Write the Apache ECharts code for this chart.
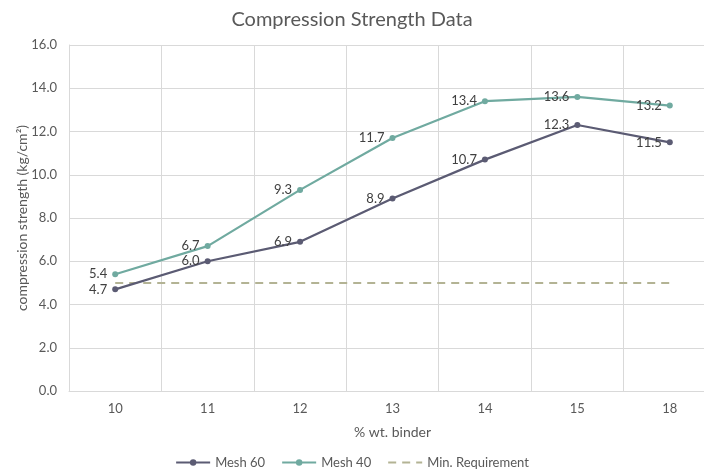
<!DOCTYPE html>
<html><head><meta charset="utf-8">
<script src="https://cdn.jsdelivr.net/npm/echarts@6/dist/echarts.min.js"></script>
<style>html,body{margin:0;padding:0;background:#fff}#c{width:704px;height:472px}</style>
</head><body><div id="c"></div>
<script>
const categories = ['10','11','12','13','14','15','18'];
const mesh60 = [4.7, 6.0, 6.9, 8.9, 10.7, 12.3, 11.5];
const mesh40 = [5.4, 6.7, 9.3, 11.7, 13.4, 13.6, 13.2];
const minReq = [5, 5, 5, 5, 5, 5, 5];
const yTicks = {min: 0, max: 16, interval: 2};

const FONT = 'Lato';
const chart = echarts.init(document.getElementById('c'));
const lbl = {show: true, position: 'left', distance: 5, color: '#404040', fontSize: 13, fontFamily: FONT, formatter: p => p.value.toFixed(1)};
chart.setOption({
  animation: false,
  title: {text: 'Compression Strength Data', left: 'center', top: 5,
    textStyle: {fontFamily: FONT, fontSize: 20, fontWeight: 'normal', color: '#595959'}},
  grid: {left: 69, width: 647, top: 45, bottom: 81, outerBoundsMode: 'none', containLabel: false},
  legend: {top: 451, left: 'center', itemWidth: 34, itemHeight: 8, itemGap: 16,
    data: [{name: 'Mesh 60'}, {name: 'Mesh 40'}, {name: 'Min. Requirement', itemStyle: {opacity: 0}}],
    textStyle: {fontFamily: FONT, fontSize: 13, color: '#595959'}},
  xAxis: {type: 'category', data: categories, boundaryGap: true,
    name: '% wt. binder', nameLocation: 'middle', nameGap: 34,
    nameTextStyle: {fontFamily: FONT, fontSize: 14, color: '#595959'},
    axisLine: {lineStyle: {color: '#d9d9d9'}}, axisTick: {show: false},
    axisLabel: {fontFamily: FONT, fontSize: 13, color: '#595959', margin: 11},
    splitLine: {show: true, lineStyle: {color: '#d9d9d9'}}},
  yAxis: {type: 'value', min: yTicks.min, max: yTicks.max, interval: yTicks.interval,
    name: 'compression strength (kg/cm²)', nameLocation: 'middle', nameGap: 40, nameRotate: 90,
    nameMoveOverlap: false,
    nameTextStyle: {fontFamily: FONT, fontSize: 14, color: '#595959'},
    axisLine: {show: true, lineStyle: {color: '#d9d9d9'}}, axisTick: {show: false},
    axisLabel: {fontFamily: FONT, fontSize: 13, color: '#595959', margin: 12, formatter: v => v.toFixed(1)},
    splitLine: {lineStyle: {color: '#d9d9d9'}}},
  series: [
    {name: 'Mesh 60', type: 'line', data: mesh60, symbol: 'circle', symbolSize: 6,
      itemStyle: {color: '#5b5b73'}, lineStyle: {width: 2.25, color: '#5b5b73'}, label: lbl, z: 3},
    {name: 'Mesh 40', type: 'line', data: mesh40, symbol: 'circle', symbolSize: 6,
      itemStyle: {color: '#70aaa0'}, lineStyle: {width: 2.25, color: '#70aaa0'}, label: lbl, z: 3},
    {name: 'Min. Requirement', type: 'line', data: minReq, symbol: 'none',
      itemStyle: {color: '#b3b394'}, lineStyle: {width: 2, type: [8, 6], color: '#b3b394'}, z: 2}
  ]
});
</script></body></html>
